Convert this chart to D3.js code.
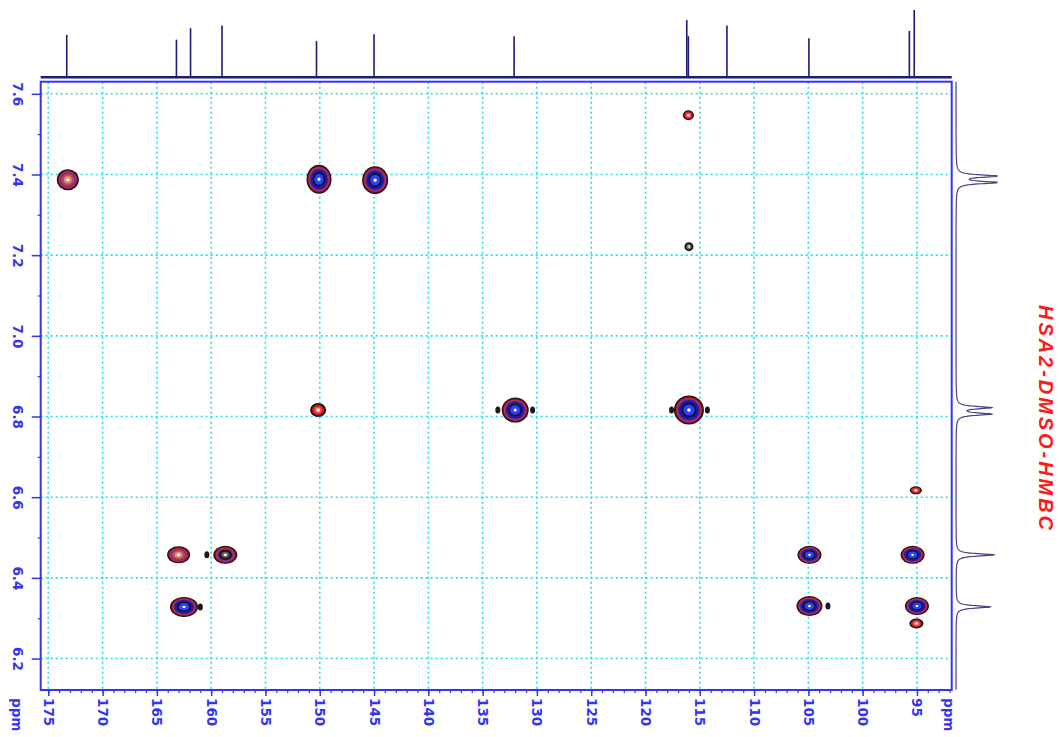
<!DOCTYPE html>
<html>
<head>
<meta charset="utf-8">
<script src="https://cdn.jsdelivr.net/npm/d3@7"></script>
<style>
  body { margin: 0; background: #fff; }
  svg { display: block; }
</style>
</head>
<body>
<svg id="chart" width="1061" height="737"></svg>
<script>
// 13C axis (horizontal) and 1H axis (vertical) ticks
const carbonTicks = [175, 170, 165, 160, 155, 150, 145, 140, 135, 130, 125, 120, 115, 110, 105, 100, 95];
const protonTicks = [7.6, 7.4, 7.2, 7.0, 6.8, 6.6, 6.4, 6.2];
const protonMinorTicks = [7.5, 7.3, 7.1, 6.9, 6.7, 6.5, 6.3];

// 1D 13C projection on top: shift (ppm) and relative height
const carbonShifts  = [173.3, 163.2, 161.9, 159.0, 150.3, 145.0, 132.1, 116.2, 116.05, 112.5, 104.95, 95.7, 95.25];
const carbonHeights = [0.63, 0.56, 0.73, 0.77, 0.54, 0.64, 0.61, 0.85, 0.61, 0.77, 0.58, 0.69, 1.0];

// 1D 1H projection on the right
const protonShifts  = [7.396, 7.380, 6.822, 6.806, 6.457, 6.328];
const protonHeights = [1.0, 1.0, 0.83, 0.83, 0.92, 0.83];

// HMBC cross peaks: 13C ppm, 1H ppm, size (px), contour style
const peakC     = [173.2, 150.07, 144.9, 116.05, 116.0, 150.15, 132.0, 116.0, 95.1, 163.0, 158.7, 104.9, 95.4, 162.5, 104.9, 95.0, 95.05];
const peakH     = [7.387, 7.388, 7.386, 7.547, 7.221, 6.816, 6.816, 6.816, 6.617, 6.457, 6.457, 6.457, 6.457, 6.328, 6.330, 6.330, 6.287];
const peakRx    = [11, 12.5, 13, 5.5, 4.5, 8, 13.5, 15, 6, 11.5, 12, 12, 12, 14, 13, 12, 7];
const peakRy    = [10.5, 14.5, 14, 5, 4.5, 7, 12.5, 14.5, 4, 8.5, 9, 9, 9, 10, 10, 9, 5];
const peakStyle = ["medium", "strong", "strong", "red", "grey", "red", "strong", "strong", "red", "medium", "dark", "strong", "strong", "strong", "strong", "strong", "red"];

// small satellite / tail contours
const satC = [133.6, 130.4, 117.6, 114.3, 160.4, 161.0, 103.2];
const satH = [6.816, 6.816, 6.816, 6.816, 6.457, 6.328, 6.330];

// contour levels, outside to inside: [colour, fraction of the peak radius]
const palettes = {
  strong: [["#141414", 1], ["#6a1020", 0.93], ["#d42a2a", 0.85], ["#6a2ab0", 0.77], ["#1c1ca0", 0.69], ["#101030", 0.5], ["#3040f5", 0.38], ["#ffffff", 0.12]],
  medium: [["#141414", 1], ["#6a1020", 0.92], ["#d42a2a", 0.82], ["#5a30c0", 0.7], ["#c04a48", 0.58], ["#e08878", 0.36], ["#ffffff", 0.15]],
  dark:   [["#141414", 1], ["#6a1020", 0.92], ["#d42a2a", 0.82], ["#5a30c0", 0.7], ["#141414", 0.56], ["#6a4a40", 0.36], ["#ffffff", 0.16]],
  red:    [["#141414", 1], ["#b01822", 0.78], ["#ff4040", 0.55], ["#ffffff", 0.25]],
  grey:   [["#141414", 1], ["#6a6a6a", 0.6], ["#d0d0d0", 0.3]]
};

const svg = d3.select("#chart");
const blue = "#3434f4";

const x = d3.scaleLinear().domain([175.7, 91.8]).range([40.7, 951.7]);
const y = d3.scaleLinear().domain([7.63, 6.122]).range([81.7, 690]);

const plotLeft = x.range()[0], plotRight = x.range()[1];
const plotTop = y.range()[0], plotBottom = y.range()[1];

// grid
const grid = svg.append("g")
  .attr("stroke", "#1ee0ee")
  .attr("stroke-width", 1.6)
  .attr("stroke-dasharray", "2,3");

grid.selectAll("line.v").data(carbonTicks).join("line")
  .attr("class", "v")
  .attr("x1", d => x(d)).attr("x2", d => x(d))
  .attr("y1", plotTop).attr("y2", plotBottom);

grid.selectAll("line.h").data(protonTicks).join("line")
  .attr("class", "h")
  .attr("x1", plotLeft).attr("x2", plotRight)
  .attr("y1", d => y(d)).attr("y2", d => y(d));

// cross peaks drawn as nested contour ellipses
const peaks = peakC.map((c, i) => ({c: c, h: peakH[i], rx: peakRx[i], ry: peakRy[i], style: peakStyle[i]}));

const peakG = svg.append("g");
peaks.forEach(p => {
  const g = peakG.append("g").attr("transform", `translate(${x(p.c)},${y(p.h)})`);
  palettes[p.style].forEach(level => {
    g.append("ellipse")
      .attr("rx", p.rx * level[1])
      .attr("ry", p.ry * level[1])
      .attr("fill", level[0]);
  });
});

peakG.selectAll("ellipse.sat").data(satC).join("ellipse")
  .attr("class", "sat")
  .attr("cx", d => x(d))
  .attr("cy", (d, i) => y(satH[i]))
  .attr("rx", 2.5)
  .attr("ry", 3.5)
  .attr("fill", "#1a1a1a");

// frame
svg.append("rect")
  .attr("x", plotLeft).attr("y", plotTop)
  .attr("width", plotRight - plotLeft).attr("height", plotBottom - plotTop)
  .attr("fill", "none")
  .attr("stroke", blue)
  .attr("stroke-width", 2);

// bottom axis: minor then major ticks
const carbonMinor = d3.range(175, 91, -1);
svg.append("g")
  .attr("transform", `translate(0,${plotBottom})`)
  .call(d3.axisBottom(x).tickValues(carbonMinor).tickSize(3).tickFormat(""))
  .call(g => g.select(".domain").remove())
  .call(g => g.selectAll("line").attr("stroke", blue).attr("stroke-width", 1.2));

const xAxis = svg.append("g")
  .attr("transform", `translate(0,${plotBottom})`)
  .call(d3.axisBottom(x).tickValues(carbonTicks).tickSize(6).tickFormat(d3.format("d")))
  .call(g => g.select(".domain").remove());
xAxis.selectAll("line").attr("stroke", blue).attr("stroke-width", 1.5);
xAxis.selectAll("text")
  .attr("y", 0).attr("x", 8).attr("dy", null)
  .attr("transform", "rotate(90)")
  .attr("text-anchor", "start")
  .attr("dominant-baseline", "central")
  .attr("fill", blue)
  .attr("font-family", "DejaVu Sans, sans-serif")
  .attr("font-weight", "bold")
  .attr("font-size", 13.5);

// left axis
svg.append("g")
  .attr("transform", `translate(${plotLeft},0)`)
  .call(d3.axisLeft(y).tickValues(protonMinorTicks).tickSize(3).tickFormat(""))
  .call(g => g.select(".domain").remove())
  .call(g => g.selectAll("line").attr("stroke", blue).attr("stroke-width", 1.2));

const yAxis = svg.append("g")
  .attr("transform", `translate(${plotLeft},0)`)
  .call(d3.axisLeft(y).tickValues(protonTicks).tickSize(9).tickFormat(d3.format(".1f")))
  .call(g => g.select(".domain").remove());
yAxis.selectAll("line").attr("stroke", blue).attr("stroke-width", 1.5);
yAxis.selectAll("text")
  .attr("x", null).attr("dy", null)
  .attr("transform", `translate(${18 - plotLeft},0) rotate(90)`)
  .attr("text-anchor", "middle")
  .attr("dominant-baseline", "central")
  .attr("fill", blue)
  .attr("font-family", "DejaVu Sans, sans-serif")
  .attr("font-weight", "bold")
  .attr("font-size", 13.5);

// unit labels
[[17, 698], [949, 698]].forEach(pos => {
  svg.append("text")
    .attr("transform", `translate(${pos[0]},${pos[1]}) rotate(90)`)
    .attr("text-anchor", "start")
    .attr("dominant-baseline", "central")
    .attr("fill", blue)
    .attr("font-family", "DejaVu Sans, sans-serif")
    .attr("font-weight", "bold")
    .attr("font-size", 13.5)
    .text("ppm");
});

// top 13C projection
const yTop = d3.scaleLinear().domain([0, 1]).range([77.3, 10]);
const navy = "#1c1c78";
svg.append("line")
  .attr("x1", plotLeft).attr("x2", plotRight)
  .attr("y1", yTop(0)).attr("y2", yTop(0))
  .attr("stroke", navy)
  .attr("stroke-width", 2.6);
svg.append("g").selectAll("line").data(carbonShifts).join("line")
  .attr("x1", d => x(d)).attr("x2", d => x(d))
  .attr("y1", yTop(0))
  .attr("y2", (d, i) => yTop(carbonHeights[i]))
  .attr("stroke", navy)
  .attr("stroke-width", 1.6);

// right 1H projection (Lorentzian lines from the peak list)
const xRight = d3.scaleLinear().domain([0, 1]).range([956, 997]);
const lw = 0.0035;
const rows = d3.range(y.domain()[0], y.domain()[1], -0.0005);
const profile = rows.map(r => {
  let s = 0;
  protonShifts.forEach((p, i) => {
    s += protonHeights[i] * lw * lw / ((r - p) * (r - p) + lw * lw);
  });
  return [r, Math.min(s, 1)];
});
svg.append("path")
  .datum(profile)
  .attr("fill", "none")
  .attr("stroke", "#43438c")
  .attr("stroke-width", 1.2)
  .attr("d", d3.line().x(d => xRight(d[1])).y(d => y(d[0])));

// title
svg.append("text")
  .attr("transform", "translate(1046,305) rotate(90)")
  .attr("text-anchor", "start")
  .attr("dominant-baseline", "central")
  .attr("fill", "#ff1a1a")
  .attr("font-family", "Liberation Sans, Arial, sans-serif")
  .attr("font-weight", "bold")
  .attr("font-style", "italic")
  .attr("font-size", 20)
  .attr("textLength", 225)
  .attr("lengthAdjust", "spacing")
  .text("HSA2-DMSO-HMBC");
</script>
</body>
</html>
